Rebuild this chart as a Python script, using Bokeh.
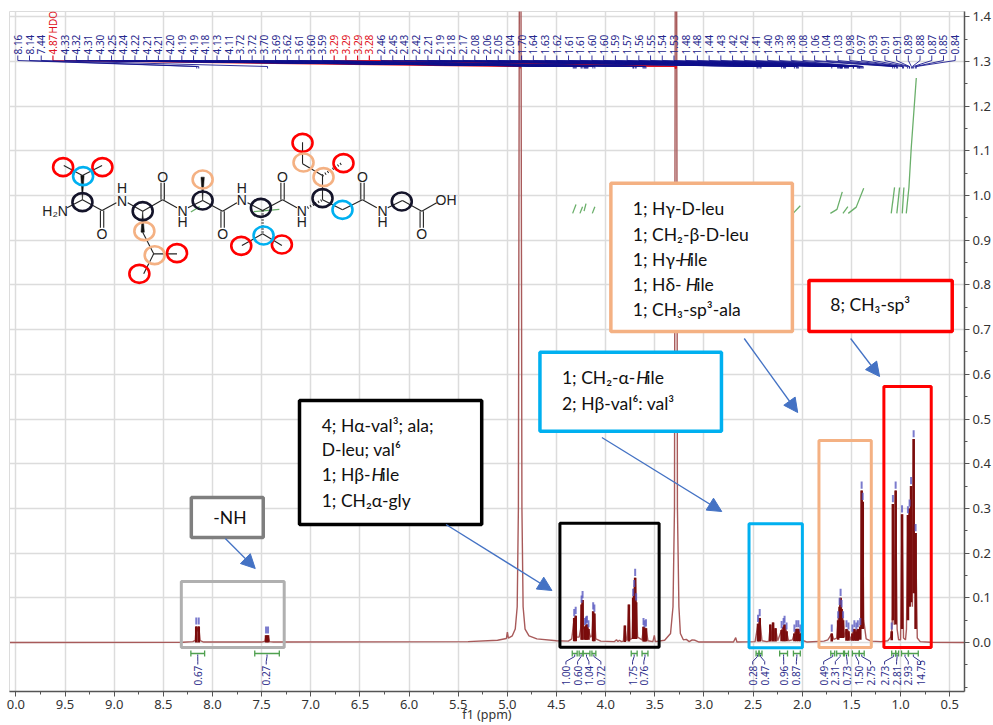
import math
from bokeh.plotting import figure
from bokeh.embed import file_html
from bokeh.resources import INLINE
from bokeh.core.properties import value
from bokeh.models import Range1d, FixedTicker, Arrow, NormalHead, LinearAxis

# ---------------- chart data ----------------
spec_ppm = [10.06,8.30,8.20,8.175,8.165,8.15,8.14,8.125,8.09,7.50,7.465,7.455,7.445,7.435,7.42,7.38,
 5.40,5.10,5.01,5.00,4.99,4.95,4.92,4.90,4.888,4.878,4.862,4.852,4.84,4.82,4.78,4.70,4.50,4.38,
 4.345,4.32,4.315,4.305,4.295,4.27,4.255,4.245,4.24,4.235,4.225,4.21,4.20,4.19,4.175,4.155,4.14,4.127,4.122,4.115,4.10,4.05,
 3.91,3.89,3.875,3.86,3.84,3.82,3.805,3.79,3.78,3.764,3.75,3.73,3.72,3.71,3.70,3.69,3.675,3.63,3.615,3.605,3.59,3.57,3.52,3.505,3.495,
 3.40,3.34,3.315,3.30,3.292,3.278,3.27,3.255,3.24,3.21,3.18,3.15,3.12,3.09,3.05,2.70,2.677,2.665,
 2.48,2.45,2.44,2.433,2.41,2.36,2.34,2.325,2.31,2.297,2.285,2.272,2.25,2.21,2.19,2.18,2.16,2.14,2.10,2.08,2.06,2.04,2.02,2.00,1.95,
 1.78,1.74,1.70,1.68,1.65,1.635,1.62,1.61,1.60,1.585,1.57,1.55,1.53,1.51,1.49,1.47,1.45,1.435,1.42,1.41,1.405,1.396,1.392,1.385,1.375,1.35,1.30,1.20,1.13,1.10,1.09,1.082,
 1.078,1.065,1.05,1.035,1.02,1.00,0.985,0.97,0.95,0.94,0.925,0.915,0.908,0.90,0.893,0.88,0.867,0.857,0.847,0.83,0.80,0.70,0.35]
spec_int = [0,.0005,.002,.005,.036,.025,.036,.004,.001,.001,.003,.016,.012,.016,.002,.001,
 .002,.005,.009,.023,.010,.015,.03,.08,.30,1.5,1.5,.30,.08,.03,.015,.008,.004,.003,
 .008,.055,.04,.06,.012,.012,.03,.085,.07,.095,.03,.035,.038,.04,.03,.012,.015,.07,.05,.065,.008,.003,
 .002,.006,.002,.005,.002,.003,.038,.005,.006,.085,.006,.01,.10,.12,.145,.09,.012,.006,.035,.03,.032,.004,.002,.016,.002,
 .005,.02,.08,.30,1.5,1.5,.30,.08,.02,.006,.007,.002,.006,.005,.001,.001,.011,.001,
 .002,.042,.015,.055,.004,.002,.003,.04,.005,.045,.005,.032,.004,.028,.035,.04,.025,.004,.006,.02,.03,.03,.02,.005,.001,
 .003,.006,.02,.007,.01,.05,.08,.10,.075,.05,.012,.03,.025,.005,.02,.03,.025,.03,.025,.035,.06,.34,.30,.315,.05,.008,.003,.002,.004,.012,.025,.06,
 .31,.04,.34,.03,.006,.006,.287,.01,.006,.03,.285,.10,.30,.12,.35,.08,.455,.11,.245,.01,.002,.0005,0]

peak_ppm = [8.165,8.14,7.455,7.435,4.32,4.305,4.245,4.235,4.21,4.20,4.19,4.175,4.127,4.115,
 3.805,3.764,3.72,3.71,3.70,3.69,3.615,3.605,3.59,2.45,2.433,2.325,2.297,2.272,2.21,2.19,2.18,2.16,2.08,2.06,2.04,2.02,
 1.70,1.635,1.62,1.61,1.60,1.585,1.55,1.53,1.49,1.47,1.45,1.435,1.41,1.396,1.385,
 1.09,1.078,1.05,0.985,0.925,0.908,0.893,0.867,0.847]
peak_top = [.036,.036,.016,.016,.055,.06,.085,.095,.035,.038,.04,.03,.07,.065,
 .038,.085,.10,.12,.145,.09,.035,.03,.032,.042,.055,.04,.045,.032,.028,.035,.04,.025,.02,.03,.03,.02,
 .02,.05,.08,.10,.075,.05,.03,.025,.02,.03,.025,.03,.035,.34,.315,
 .025,.31,.34,.287,.285,.30,.35,.455,.245]
peak_base = [0,0,0,0,.003,.003,.006,.006,.006,.006,.006,.006,.003,.003,
 .001,.002,.008,.008,.008,.008,.002,.002,.002,.002,.002,.002,.002,.002,.003,.003,.003,.003,.003,.003,.003,.003,
 .002,.006,.01,.01,.01,.01,.004,.004,.004,.004,.004,.004,.006,.03,.03,
 .005,.05,.04,.03,.05,.08,.09,.11,.03]
peak_picked = [True]*len(peak_ppm)
for _i in (14, 15, 25, 26, 27):
    peak_picked[_i] = False

top_labels = ["8.16","8.14","7.44","4.87","4.33","4.32","4.31","4.30","4.25","4.24","4.22","4.21","4.21","4.20","4.19","4.19","4.18","4.13","4.11",
 "3.72","3.72","3.70","3.69","3.62","3.61","3.60","3.59","3.29","3.29","3.29","3.28","2.46","2.45","2.43","2.42","2.21","2.19","2.18","2.17",
 "2.08","2.06","2.05","2.04","1.70","1.64","1.63","1.62","1.61","1.61","1.60","1.60","1.59","1.57","1.56","1.55","1.54","1.53","1.48","1.48",
 "1.44","1.43","1.42","1.42","1.41","1.40","1.39","1.38","1.08","1.06","1.04","1.03","0.98","0.97","0.93","0.91","0.91","0.89","0.88","0.87","0.85","0.84"]
solvent_labels = {"4.87", "3.29", "3.28"}

integral_values = ["0.67","0.27","1.00","0.60","1.04","0.72","1.75","0.76","0.28","0.47","0.96","0.87","0.49","2.31","0.73","1.50","2.75","2.73","2.81","2.93","14.75"]
integral_from = [8.22,7.57,4.34,4.27,4.23,4.14,3.74,3.63,2.47,2.44,2.23,2.09,1.71,1.65,1.57,1.49,1.42,1.09,1.05,0.99,0.92]
integral_to = [8.08,7.32,4.29,4.23,4.16,4.10,3.68,3.57,2.44,2.41,2.15,2.02,1.67,1.58,1.53,1.42,1.37,1.05,1.02,0.92,0.82]

curve_ppm = [[8.22,8.13],[7.58,7.32],[4.336,4.302],[4.262,4.235],[4.22,4.20],[4.136,4.11],[2.094,2.02],[1.714,1.647,1.593],
             [1.586,1.536],[1.532,1.451,1.375],[1.095,1.061],[1.038,1.01],[.983,.966],[.942,.915,.891,.84]]
curve_val = [[.963,.975],[.964,.969],[.96,.98],[.96,.975],[.965,.982],[.96,.975],[.96,.977],[.96,.969,1.008],
             [.96,.975],[.96,.974,1.016],[.96,1.018],[.96,1.018],[.96,1.018],[.96,1.018,1.108,1.263]]

x_ticks = [10.0,9.5,9.0,8.5,8.0,7.5,7.0,6.5,6.0,5.5,5.0,4.5,4.0,3.5,3.0,2.5,2.0,1.5,1.0,0.5]
x_tick_labels = ["0.0","9.5","9.0","8.5","8.0","7.5","7.0","6.5","6.0","5.5","5.0","4.5","4.0","3.5","3.0","2.5","2.0","1.5","1.0","0.5"]
y_ticks = [0.0,0.1,0.2,0.3,0.4,0.5,0.6,0.7,0.8,0.9,1.0,1.1,1.2,1.3,1.4]

# ---------------- layout helpers (picture pixels to axis values) ----------------
def X(px): return 1.0 + (901.0 - px) / 98.4
def Y(py): return (642.0 - py) / 447.0
def MX(z): return X(20 + z / 3.0)
def MY(z): return Y(120 + z / 3.0)

p = figure(width=993, height=725, output_backend="svg", toolbar_location=None,
           x_range=Range1d(X(9), X(965)), y_range=Range1d(Y(691), Y(11)),
           y_axis_location="right", min_border_left=9, min_border_right=28,
           min_border_top=11, min_border_bottom=34, x_axis_label="f1 (ppm)")
p.background_fill_color = "white"
p.outline_line_color = "#dcdcdc"
p.xgrid.grid_line_color = "#dcdcdc"; p.ygrid.grid_line_color = "#dcdcdc"
p.xgrid.grid_line_width = 1.5; p.ygrid.grid_line_width = 1.5

p.xaxis.ticker = FixedTicker(ticks=x_ticks, minor_ticks=[t - .25 for t in x_ticks])
p.xaxis.major_label_overrides = {t: s for t, s in zip(x_ticks, x_tick_labels)}
p.yaxis.ticker = FixedTicker(ticks=y_ticks, minor_ticks=[t + .05 for t in y_ticks] + [-.05, -.1])
p.yaxis.major_label_overrides = {t: "%.1f" % t for t in y_ticks}
for ax in (p.xaxis, p.yaxis):
    ax.axis_line_color = "#555555"; ax.axis_line_width = 1.5
    ax.major_tick_line_color = "#555555"; ax.minor_tick_line_color = "#555555"
    ax.major_tick_out = 5; ax.major_tick_in = 0; ax.minor_tick_out = 3; ax.minor_tick_in = 0
    ax.major_label_text_font = "Noto Sans"; ax.major_label_text_font_size = "13px"
    ax.major_label_text_color = "#333333"; ax.major_label_standoff = 3
    ax.major_label_text_line_height = 0.9
p.xaxis.axis_label_text_font = "Noto Sans"; p.xaxis.axis_label_text_font_size = "12.5px"
p.xaxis.axis_label_text_font_style = "normal"; p.xaxis.axis_label_text_color = "#333333"
p.xaxis.axis_label_standoff = -6
p.xaxis.axis_label_text_line_height = 0.8
p.xaxis.axis_label_text_baseline = "top"
p.yaxis.major_label_orientation = "horizontal"

# ---------------- spectrum ----------------
p.line(spec_ppm, spec_int, line_color="#a85a5a", line_width=1.4)
dark = [i for i in range(len(peak_ppm))]
p.segment([peak_ppm[i] for i in dark], [peak_base[i] for i in dark], [peak_ppm[i] for i in dark], [peak_top[i] for i in dark],
          line_color="#7a0c0c", line_width=2.6)
pk = [i for i in dark if peak_picked[i]]
p.segment([peak_ppm[i] for i in pk], [peak_top[i] + .004 for i in pk], [peak_ppm[i] for i in pk], [peak_top[i] + .02 for i in pk],
          line_color="#5a5ac0", line_width=2, line_alpha=.8)

# ---------------- peak-picking labels ----------------
lab_x = [17.3 + i * 11.73 for i in range(len(top_labels))]
def conn(idx):
    return ([X(lab_x[idx]), X(lab_x[idx]), float(top_labels[idx]), float(top_labels[idx])],
            [Y(55), Y(60), Y(66), Y(68)])
blue_idx = [i for i, s in enumerate(top_labels) if s not in solvent_labels]
red_idx = [i for i, s in enumerate(top_labels) if s in solvent_labels]
p.multi_line([conn(i)[0] for i in red_idx], [conn(i)[1] for i in red_idx], line_color="#e01020", line_width=1.2)
p.multi_line([conn(i)[0] for i in blue_idx], [conn(i)[1] for i in blue_idx], line_color="#10108c", line_width=1, line_alpha=.85)
for idx_set, col in ((blue_idx, "#26268c"), (red_idx, "#e01020")):
    p.text([X(lab_x[i]) for i in idx_set], [Y(54)] * len(idx_set), [top_labels[i] for i in idx_set],
           angle=math.pi / 2, text_align="left", text_baseline="middle", text_color=col,
           text_font=value("Noto Sans"), text_font_size="10px")
hdo_i = top_labels.index("4.87")
p.text([X(lab_x[hdo_i])], [Y(33)], ["HDO"], angle=math.pi / 2, text_align="left", text_baseline="middle",
       text_color="#e01020", text_font=value("Noto Sans"), text_font_size="10px")

# ---------------- integrals ----------------
p.multi_line(curve_ppm, curve_val, line_color="#6aaf6a", line_width=1.3)
int_label_px = [197.5, 266, 566, 577.7, 589, 601, 632.7, 644, 753, 765, 784, 796.7, 824, 835.7, 847.6, 859, 871, 885, 897, 908.7, 921]
gx0, gx1 = integral_from, integral_to
p.segment(gx0, [Y(653)] * len(gx0), gx1, [Y(653)] * len(gx0), line_color="#4fa04f", line_width=1.3)
for g in (gx0, gx1):
    p.segment(g, [Y(650)] * len(g), g, [Y(656)] * len(g), line_color="#4fa04f", line_width=1.3)
mid = [(a + b) / 2 for a, b in zip(gx0, gx1)]
p.multi_line([[m, m, X(px), X(px)] for m, px in zip(mid, int_label_px)],
             [[Y(654), Y(656), Y(661), Y(664)]] * len(mid), line_color="#30308c", line_width=1)
p.text([X(px) for px in int_label_px], [Y(685)] * len(int_label_px), integral_values, angle=math.pi / 2,
       text_align="left", text_baseline="middle", text_color="#30308c",
       text_font=value("Noto Sans"), text_font_size="10px")

# ---------------- highlight boxes (no fill) ----------------
def rect(x0, y0, x1, y1, color, lw, fill=None):
    p.quad(left=[X(x0)], right=[X(x1)], top=[Y(y0)], bottom=[Y(y1)], line_color=color, line_width=lw,
           fill_color=fill if fill else None, fill_alpha=1 if fill else 0)

rect(181, 581, 284, 647, "#b0b0b0", 3)
rect(560, 522.7, 659.3, 646.7, "#000000", 3)
rect(749.3, 523.3, 802.7, 647.3, "#00b0f0", 3)
rect(819.3, 440, 871.7, 647, "#f4b183", 3)
rect(884.3, 386, 931.7, 647, "#ff0000", 3)

# ---------------- callouts ----------------
rect(191, 497, 263, 537, "#7f7f7f", 3.5, "white")
rect(299.3, 400, 481.7, 524, "#000000", 3.5, "white")
rect(540, 351.7, 721.7, 430.7, "#00b0f0", 3.5, "white")
rect(611, 182.7, 792.7, 331, "#f4b183", 3.5, "white")
rect(809.3, 280, 952.7, 331, "#ff0000", 3.5, "white")

def t(px, py, s, italic=False):
    p.text([X(px)], [Y(py - 6.5)], [s], text_align="left", text_baseline="alphabetic", text_color="#111111",
           text_font=value("Lato"), text_font_size="17.5px", text_font_style="italic" if italic else "normal")

t(213, 523, "-NH")
t(321.5, 431.7, "4; H\u03b1-val\u00b3; ala;")
t(321.5, 455.7, "D-leu; val\u2076")
t(321.5, 480, "1; H\u03b2-"); t(371.5, 480, "H", True); t(381.5, 480, "ile")
t(321.5, 506.7, "1; CH\u2082\u03b1-gly")
t(562, 383.3, "1; CH\u2082-\u03b1-"); t(636.5, 383.3, "H", True); t(646.5, 383.3, "ile")
t(562, 409, "2; H\u03b2-val\u2076: val\u00b3")
t(633, 214.3, "1; H\u03b3-D-leu")
t(633, 240.7, "1; CH\u2082-\u03b2-D-leu")
t(633, 265, "1; H\u03b3-"); t(679.5, 265, "H", True); t(690, 265, "ile")
t(633, 290.7, "1; H\u03b4- "); t(686, 290.7, "H", True); t(696.5, 290.7, "ile")
t(633, 315, "1; CH\u2083-sp\u00b3-ala")
t(830.7, 310, "8; CH\u2083-sp\u00b3")

arrow_blue = "#4472c4"
for (x0, y0, x1, y1) in [(225, 538, 255, 568), (446, 524, 552, 590), (602, 437, 722, 511), (744.5, 338, 798, 412), (851, 338, 880, 376)]:
    p.add_layout(Arrow(end=NormalHead(size=14, fill_color=arrow_blue, line_color=arrow_blue),
                       x_start=X(x0), y_start=Y(y0), x_end=X(x1), y_end=Y(y1),
                       line_color=arrow_blue, line_width=1.3))

# ---------------- molecule ----------------
single = [(140,262,186,238),(186,238,245,270),(245,270,288,247),(322,247,367,272),(367,272,427,238),(427,238,470,262),
 (503,262,547,240),(547,240,607,272),(607,272,650,247),(682,247,727,270),(727,270,787,238),(787,238,830,262),
 (907,238,967,268),(967,268,1027,238),(1027,238,1070,262),(1103,262,1147,240),(1147,240,1205,272),(1205,272,1250,247),
 (186,165,130,135),(186,165,245,135),(367,335,400,400),(400,400,470,400),(400,400,370,460),
 (727,340,665,375),(727,340,785,375),(907,238,907,165),(907,165,847,130),(847,130,847,65)]
double = [(245,270,245,322),(427,238,427,187),(607,272,607,322),(787,238,787,187),(1027,238,1027,187),(1205,272,1205,322)]
hashed = [(862,262,907,238),(727,270,727,340),(907,165,965,128)]
wedge = [(186,238,186,165),(367,272,367,335),(547,240,547,170)]
ml = dict(line_color="#222222", line_width=1.1)
p.segment([MX(a) for a,_,_,_ in single], [MY(b) for _,b,_,_ in single], [MX(c) for _,_,c,_ in single], [MY(d) for _,_,_,d in single], **ml)
for off in (-5, 5):
    p.segment([MX(a + off) for a,_,_,_ in double], [MY(b) for _,b,_,_ in double], [MX(c + off) for _,_,c,_ in double], [MY(d) for _,_,_,d in double], **ml)
p.segment([MX(a) for a,_,_,_ in hashed], [MY(b) for _,b,_,_ in hashed], [MX(c) for _,_,c,_ in hashed], [MY(d) for _,_,_,d in hashed],
          line_color="#222222", line_width=2.5, line_dash="1 2")
p.patches([[MX(a - 5), MX(a + 5), MX(c)] for a,b,c,d in wedge], [[MY(d), MY(d), MY(b)] for a,b,c,d in wedge], fill_color="#111111", line_color="#111111", line_width=.5)
atoms = [(104,272,"H\u2082N"),(305,240,"N"),(305,203,"H"),(427,170,"O"),(487,272,"N"),(487,305,"H"),(245,340,"O"),(607,340,"O"),
 (665,238,"N"),(665,203,"H"),(787,170,"O"),(845,272,"N"),(845,305,"H"),(1027,170,"O"),(1087,272,"N"),(1087,305,"H"),(1205,340,"O"),(1278,238,"OH")]
p.text([MX(a[0]) for a in atoms], [MY(a[1]) for a in atoms], [a[2] for a in atoms], text_align="center", text_baseline="middle",
       text_color="#222222", text_font=value("Liberation Sans"), text_font_size="14px")
circles = {
 "#ff0000": [(128,140),(246,140),(470,398),(357,460),(663,376),(785,372),(847,67),(970,128)],
 "#00b0f0": [(188,167),(730,345),(967,268)],
 "#f4b183": [(547,177),(372,332),(403,404),(850,126),(910,170)],
 "#14142a": [(186,245),(367,272),(547,240),(722,262),(907,233),(1145,243)],
}
for col, pts in circles.items():
    p.ellipse([MX(a) for a,_ in pts], [MY(b) for _,b in pts], width=20, height=18, width_units="screen", height_units="screen",
              line_color=col, line_width=2.6, fill_alpha=0)

open("out.html", "w").write(file_html(p, INLINE))
